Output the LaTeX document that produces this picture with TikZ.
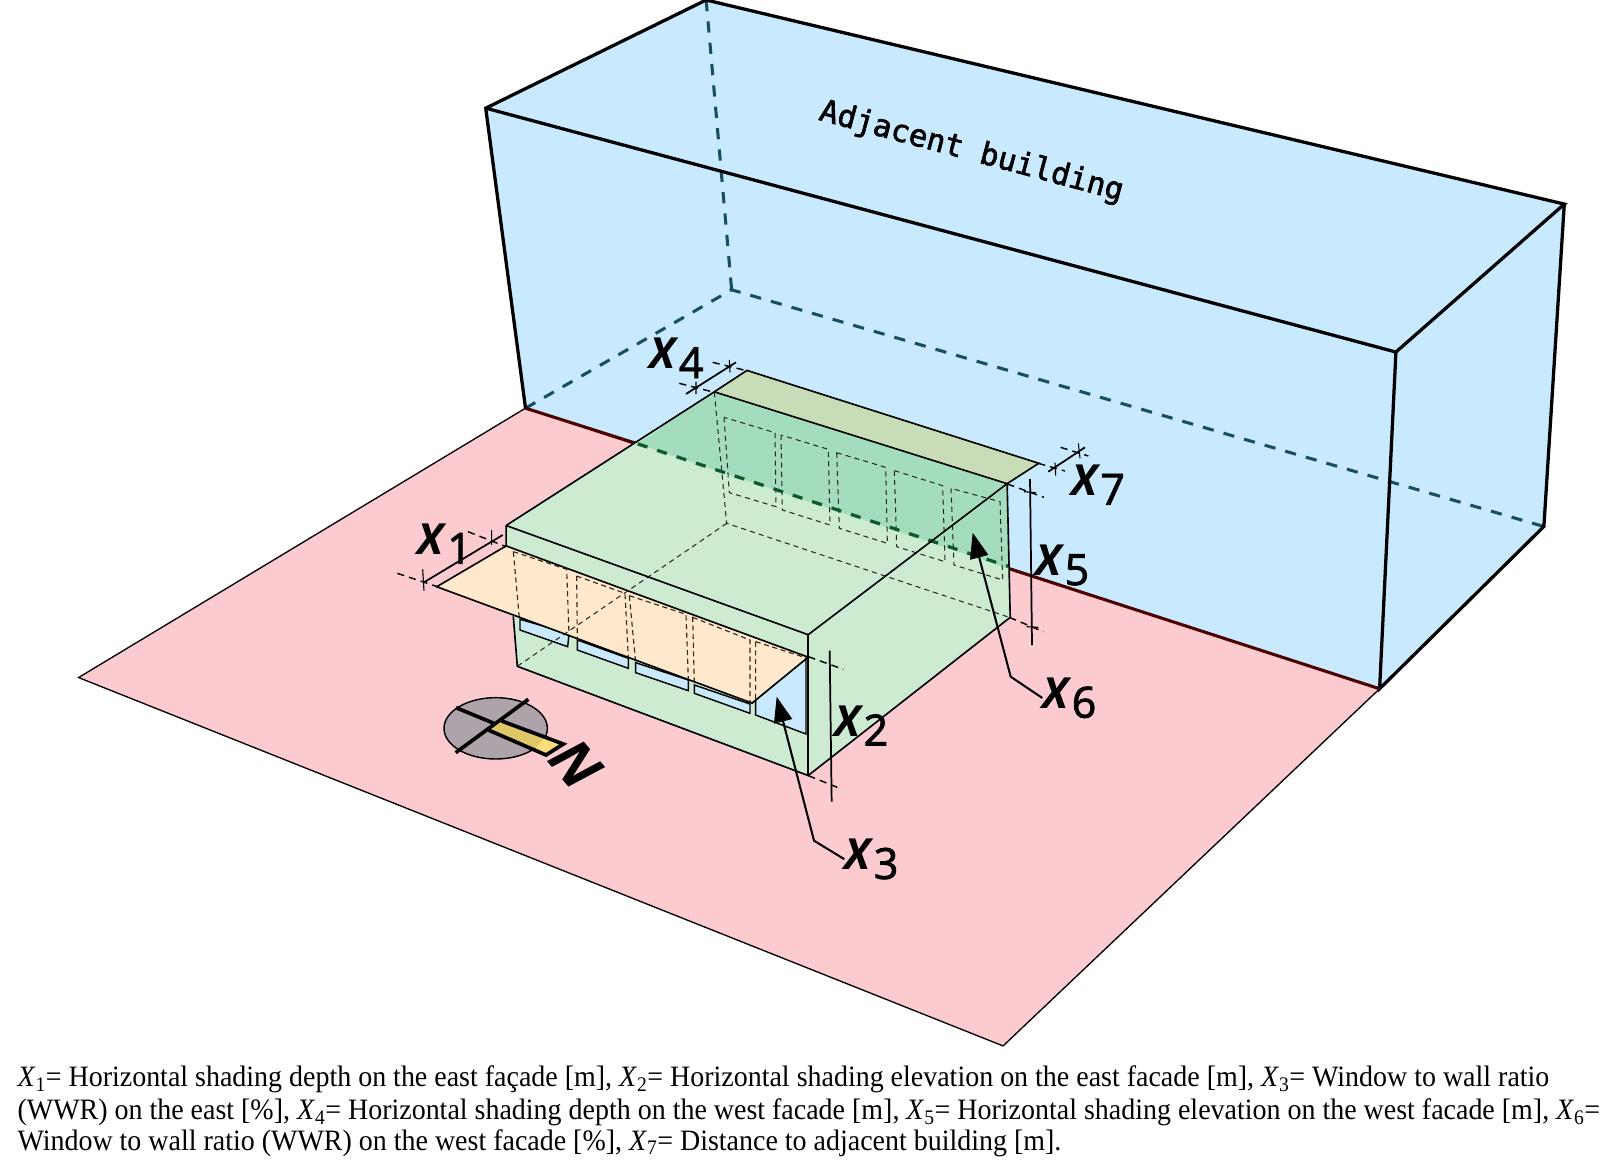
\documentclass[tikz,border=0pt]{standalone}
\usepackage{fontspec}
\usetikzlibrary{arrows.meta}
\setmainfont{Liberation Serif}
\newfontfamily\capf[FakeStretch=0.945]{Liberation Serif}
\newfontfamily\labf{Open Sans}
\newfontfamily\labd[FakeBold=2]{Open Sans}
\newfontfamily\monof[FakeBold=2]{DejaVu Sans Mono}
\newcommand{\lbl}[1]{{\labf\fontsize{42}{42}\selectfont\textbf{\textit{X}}\raisebox{-9pt}{\labd #1}}}
\newcommand{\cx}[1]{\textit{X}\textsubscript{#1}=}
\definecolor{pinkG}{HTML}{FBCBD0}
\definecolor{blueB}{HTML}{C9E9FF}
\definecolor{greenL}{HTML}{CCEBD0}
\definecolor{greenD}{HTML}{A3DDBD}
\definecolor{shadeW}{HTML}{C9DCB8}
\definecolor{shadeE}{HTML}{FFE8CC}
\definecolor{tealB}{HTML}{174F60}
\definecolor{darkG}{HTML}{0F5A2C}
\definecolor{mauve}{HTML}{AEA2AB}
\definecolor{yellowIn}{HTML}{DFC768}
\definecolor{yellowOut}{HTML}{FBDD7E}
\tikzset{
 zone/.style={shift={(372.4,470.4)},scale=.32667},
 ztwo/.style={shift={(607.6,323.4)},scale=.32667},
 zfive/.style={shift={(411.6,656.6)},scale=.32667},
 boxedge/.style={draw=black,line width=1.6pt},
 heavy/.style={draw=black,line width=3.2pt},
 hid/.style={draw=black!85,line width=1pt,dash pattern=on 5pt off 4pt},
 hidb/.style={draw=black!70!brown,line width=1.1pt,dash pattern=on 5pt off 3.5pt},
 dimd/.style={draw=black,line width=1.4pt,dash pattern=on 7pt off 5pt},
 diml/.style={draw=black,line width=1.7pt},
 tickline/.style={draw=black,line width=1.1pt},
 leader/.style={draw=black,line width=2pt},
 leadarrow/.style={leader,-{Triangle[length=25pt,width=18pt]}},
 winpane/.style={fill=blueB,draw=black,line width=1.4pt},
 captext/.style={anchor=base west,inner sep=0pt,font=\capf\fontsize{29}{29}\selectfont},
}
\begin{document}
\begin{tikzpicture}[x=1pt,y=-1pt]
\useasboundingbox (0,0) rectangle (1568,1140);
% ground
\fill[pinkG,draw=black,line width=1.3pt] (77,664)--(515,400)--(1352,675)--(983,1025)--cycle;
% building
\fill[blueB] (476,106)--(692,0)--(1533,200)--(1513,516)--(1352,675)--(515,400)--cycle;
\draw[draw=tealB,line width=3pt,dash pattern=on 11pt off 10pt] (692,0)--(717,284) (515,400)--(717,284)--(1513,516);
\draw[heavy] (515,400)--(476,106)--(692,0)--(1533,200)--(1368,345)--(476,106);
\draw[heavy] (1368,345)--(1352,675)--(1513,516)--(1533,200);
\draw[draw=black!70!red,line width=3pt] (515,400)--(625,435) (988,557)--(1352,675);
% box body
\fill[greenL] (496,515)--(700,384)--(987,474)--(990,605)--(792,760)--(507,653)--(503,600)--(496,535)--cycle;
\fill[greenD] (625,435)--(700,384)--(987,474)--(988,557)--cycle;
\fill[shadeW] (700,384)--(732,363)--(1018,454)--(987,474)--cycle;
% east windows
\begin{scope}[zone]
\filldraw[winpane] (420,418)--(420,450)--(563,500)--(567,460)--cycle;
\filldraw[winpane] (592,480)--(592,510)--(745,565)--(745,535)--cycle;
\filldraw[winpane] (767,548)--(767,578)--(925,632)--(925,600)--cycle;
\filldraw[winpane] (943,615)--(943,640)--(1110,700)--(1110,672)--cycle;
\filldraw[winpane] (1115,670)--(1127,660)--(1127,705)--(1278,762)--(1278,535)--cycle;
\end{scope}
% hidden box edges
\begin{scope}[ztwo]
\draw[hid] (283,187)--(320,580)--(1168,862);
\draw[hid] (312,262)--(328,488)--(468,530)--(465,308)--cycle;
\draw[hid] (483,315)--(487,540)--(630,585)--(625,358)--cycle;
\draw[hid] (650,368)--(658,595)--(802,640)--(797,412)--cycle;
\draw[hid] (823,422)--(830,650)--(975,695)--(968,467)--cycle;
\draw[hid] (993,475)--(1002,705)--(1148,750)--(1140,515)--cycle;
\end{scope}
\draw[draw=darkG,line width=3.2pt,dash pattern=on 10pt off 10pt] (625,435)--(988,555);
% east shade
\fill[shadeE] (496,535)--(792,644)--(737,689)--(428,575)--cycle;
\begin{scope}[zone]
\draw[hid] (413,558)--(1040,130);
\draw[hidb] (400,215)--(418,415) (400,215)--(560,268)--(567,465);
\draw[hidb] (590,288)--(592,480) (590,288)--(735,340)--(745,535);
\draw[hidb] (748,347)--(767,548) (748,347)--(918,403)--(925,600);
\draw[hidb] (938,410)--(943,615) (938,412)--(1110,480)--(1110,672);
\draw[hidb] (1127,485)--(1127,660) (1127,485)--(1283,535);
\end{scope}
% box edges
\draw[boxedge] (428,575)--(737,689)--(792,644)--(496,535)--cycle;
\draw[boxedge] (496,535)--(496,515)--(700,384)--(987,474)--(792,622)--(496,515);
\draw[boxedge] (700,384)--(732,363)--(1018,454)--(987,474)--(990,605)--(792,760)--(507,653)--(503,604);
\draw[boxedge] (792,622)--(792,760);
% dimension lines
\begin{scope}[zone]
\draw[dimd] (264,155)--(378,200) (52,280)--(172,320);
\draw[diml] (130,308)--(368,165);
\draw[tickline] (335,150)--(335,195) (128,268)--(132,332);
\draw[dimd] (1285,530)--(1390,568) (1285,887)--(1372,922);
\draw[diml] (1349,512)--(1355,965);
\end{scope}
\begin{scope}[ztwo]
\draw[dimd] (278,97)--(380,122) (178,160)--(283,187);
\draw[diml] (198,192)--(348,97);
\draw[tickline] (228,155)--(228,192) (328,90)--(330,127);
\draw[dimd] (1255,400)--(1335,423) (1322,352)--(1405,378);
\draw[diml] (1285,425)--(1395,352);
\draw[tickline] (1305,398)--(1307,437) (1375,340)--(1380,385);
\draw[dimd] (1162,462)--(1272,502) (1168,862)--(1270,905);
\draw[diml] (1230,447)--(1236,945);
\draw[tickline] (1212,485)--(1248,488) (1220,890)--(1255,892);
\end{scope}
% compass
\begin{scope}[zfive]
\filldraw[fill=mauve,draw=black,line width=1.4pt] (227,175) ellipse [x radius=155,y radius=92];
\fill[fill=yellowOut] (345,235)--(372,195)--(430,222)--(378,255)--cycle;
\fill[fill=yellowIn] (245,153)--(372,205)--(345,235)--(205,180)--cycle;
\draw[draw=black,line width=3.6pt] (325,88)--(107,248) (108,113)--(222,160);
\draw[draw=black,line width=3.6pt,line join=miter] (245,153)--(430,222)--(378,255)--(205,180);
\end{scope}
% labels
\node[inner sep=0pt] (x1) at (436,533) {\lbl{1}};
\node[inner sep=0pt] (x2) at (844,711) {\lbl{2}};
\node[inner sep=0pt] (x3) at (854,842) {\lbl{3}};
\node[inner sep=0pt] (x4) at (663,351) {\lbl{4}};
\node[inner sep=0pt] (x5) at (1041,554) {\lbl{5}};
\node[inner sep=0pt] (x6) at (1048,684) {\lbl{6}};
\node[inner sep=0pt] (x7) at (1076,475) {\lbl{7}};
\node[inner sep=0pt,rotate=-50] (north) at (565,749) {\labf\fontsize{56}{56}\selectfont\textbf{\textit{N}}};
\node[inner sep=0pt,rotate=-15,font=\monof\fontsize{30}{30}\selectfont] (adj) at (952,149) {Adjacent building};
% leaders
\begin{scope}[zone]
\coordinate (t3) at (1190,650); \coordinate (b3) at (1302,1082);
\end{scope}
\begin{scope}[ztwo]
\coordinate (t6) at (1058,608); \coordinate (b6) at (1172,1040);
\end{scope}
\draw[leadarrow] (x3.west) -- (b3) -- (t3);
\draw[leadarrow] (x6.west) -- (b6) -- (t6);
% caption
\node[captext] (c1) at (17,1065) {\cx{1} Horizontal shading depth on the east façade [m], \cx{2} Horizontal shading elevation on the east facade [m], \cx{3} Window to wall ratio};
\node[captext] (c2) at (17,1097) {(WWR) on the east [\%], \cx{4} Horizontal shading depth on the west facade [m], \cx{5} Horizontal shading elevation on the west facade [m], \cx{6}};
\node[captext] (c3) at (17,1127) {Window to wall ratio (WWR) on the west facade [\%], \cx{7} Distance to adjacent building [m].};
\end{tikzpicture}
\end{document}
